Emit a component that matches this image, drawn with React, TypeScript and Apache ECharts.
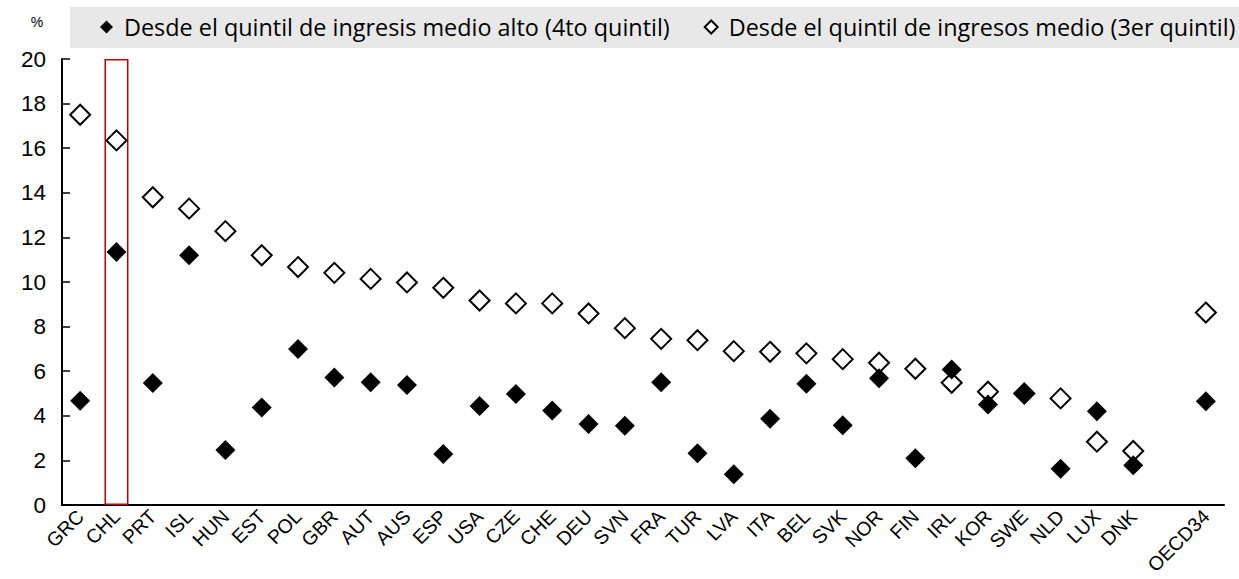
import React, { useEffect, useRef } from "react";
import * as echarts from "echarts";

const categories = [
  "GRC", "CHL", "PRT", "ISL", "HUN", "EST", "POL", "GBR", "AUT", "AUS",
  "ESP", "USA", "CZE", "CHE", "DEU", "SVN", "FRA", "TUR", "LVA", "ITA",
  "BEL", "SVK", "NOR", "FIN", "IRL", "KOR", "SWE", "NLD", "LUX", "DNK",
  "", "OECD34",
];

const fromUpperMiddle = [
  4.67, 11.35, 5.47, 11.2, 2.47, 4.37, 7.0, 5.72, 5.5, 5.38,
  2.29, 4.44, 4.98, 4.24, 3.63, 3.55, 5.5, 2.32, 1.38, 3.87,
  5.44, 3.58, 5.68, 2.1, 6.08, 4.51, 4.98, 1.62, 4.2, 1.78,
  null, 4.65,
];

const fromMiddle = [
  17.5, 16.35, 13.8, 13.29, 12.28, 11.2, 10.67, 10.41, 10.14, 9.98,
  9.74, 9.17, 9.04, 9.04, 8.59, 7.93, 7.45, 7.39, 6.9, 6.87,
  6.8, 6.54, 6.38, 6.11, 5.48, 5.08, 5.0, 4.78, 2.84, 2.42,
  null, 8.63,
];

const highlightCountry = "CHL";
const highlightValue = 20;

const seriesNames = [
  "Desde el quintil de ingresis medio alto (4to quintil)",
  "Desde el quintil de ingresos medio (3er quintil)",
];

const yTicks = { min: 0, max: 20, interval: 2 };

export default function App() {
  const ref = useRef<HTMLDivElement>(null);
  useEffect(() => {
    if (!ref.current) return;
    const chart = echarts.init(ref.current, null, { renderer: "svg" });
    const highlightData = categories.map((c) => (c === highlightCountry ? highlightValue : null));
    chart.setOption({
      animation: false,
      backgroundColor: "#ffffff",
      grid: { left: 62, right: 15, top: 59, bottom: 74 },
      graphic: [
        {
          type: "rect",
          z: 0,
          silent: true,
          shape: { x: 70, y: 7, width: 1169, height: 41 },
          style: { fill: "#e8e8e8" },
        },
      ],
      legend: {
        data: seriesNames,
        left: 100,
        top: 12,
        width: 1139,
        padding: 0,
        z: 5,
        itemWidth: 13,
        itemHeight: 13,
        itemGap: 34,
        textStyle: {
          fontFamily: "Open Sans",
          fontSize: 23.4,
          lineHeight: 30,
          color: "#000",
          padding: [0, 0, 0, 6],
        },
      },
      xAxis: {
        type: "category",
        data: categories,
        boundaryGap: true,
        axisLine: { lineStyle: { color: "#000", width: 2 } },
        axisTick: { inside: true, length: 7, lineStyle: { color: "#000", width: 1.5 }, alignWithLabel: false },
        axisLabel: {
          interval: 0,
          rotate: 45,
          fontFamily: "Liberation Sans, Arial",
          fontSize: 19.5,
          color: "#000",
          margin: 8,
        },
        splitLine: { show: false },
      },
      yAxis: {
        type: "value",
        min: yTicks.min,
        max: yTicks.max,
        interval: yTicks.interval,
        name: "%",
        nameLocation: "end",
        nameGap: 30,
        nameTextStyle: {
          fontFamily: "Liberation Sans, Arial",
          fontSize: 14,
          color: "#000",
          align: "center",
          padding: [0, 50, 0, 0],
        },
        axisLine: { show: true, lineStyle: { color: "#000", width: 2 } },
        axisTick: { show: true, inside: true, length: 8, lineStyle: { color: "#000", width: 1.5 } },
        axisLabel: {
          fontFamily: "Liberation Sans, Arial",
          fontSize: 22.5,
          color: "#000",
          margin: 16,
        },
        splitLine: { show: false },
      },
      series: [
        {
          name: "highlight",
          type: "bar",
          data: highlightData,
          barWidth: 24,
          itemStyle: { color: "rgba(0,0,0,0)", borderColor: "#c00000", borderWidth: 1.5 },
          silent: true,
          z: 1,
        },
        {
          name: seriesNames[0],
          type: "scatter",
          data: fromUpperMiddle,
          symbol: "diamond",
          symbolSize: 20,
          itemStyle: { color: "#000", opacity: 1 },
          z: 4,
        },
        {
          name: seriesNames[1],
          type: "scatter",
          data: fromMiddle,
          symbol: "emptyDiamond",
          symbolSize: 20,
          itemStyle: { color: "#000", borderWidth: 2, opacity: 1 },
          z: 3,
        },
      ],
    });
    return () => chart.dispose();
  }, []);
  return (
    <div
      ref={ref}
      style={{ position: "fixed", left: 0, top: 0, width: 1239, height: 579 }}
    />
  );
}
